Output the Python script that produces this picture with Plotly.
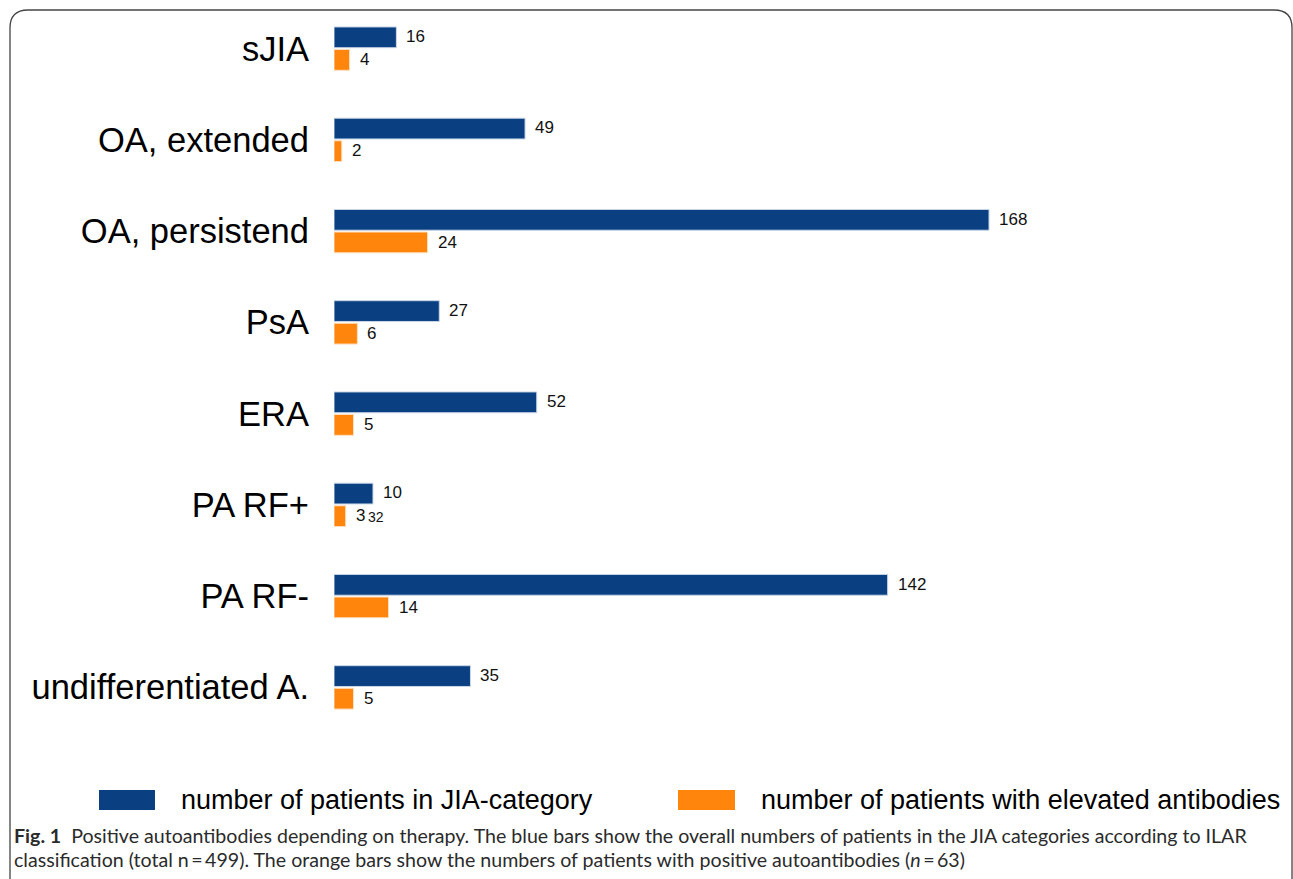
import plotly.graph_objects as go

categories = ["sJIA", "OA, extended", "OA, persistend", "PsA", "ERA",
              "PA RF+", "PA RF-", "undifferentiated A."]
patients_total = [16, 49, 168, 27, 52, 10, 142, 35]
patients_antibodies = [4, 2, 24, 6, 5, 3, 14, 5]
series_names = ["number of patients in JIA-category",
                "number of patients with elevated antibodies"]
caption_line1 = ("<b>Fig. 1</b>  Positive autoantibodies depending on therapy. The blue bars show the "
                 "overall numbers of patients in the JIA categories according to ILAR")
caption_line2 = ("classification (total n\u2009=\u2009499). The orange bars show the numbers of patients "
                 "with positive autoantibodies (<i>n</i>\u2009=\u200963)")

BLUE = "#0a4082"
ORANGE = "#ff850c"
W, H = 1293, 879
ML, MR, MT, MB = 334, 179, 3, 146
PW, PH = W - ML - MR, H - MT - MB


def px_x(p):
    return (p - ML) / PW


def px_y(p):
    return 1 - (p - MT) / PH


fig = go.Figure()
fig.add_trace(go.Bar(y=categories, x=patients_total, orientation="h", name=series_names[0],
                     marker=dict(color=BLUE, line=dict(color="#c9d6e6", width=1)),
                     showlegend=False, hoverinfo="x+y"))
fig.add_trace(go.Bar(y=categories, x=patients_antibodies, orientation="h", name=series_names[1],
                     marker=dict(color=ORANGE, line=dict(color="#ffe0c0", width=1)),
                     showlegend=False, hoverinfo="x+y"))

LABEL_FONT = dict(family="Liberation Sans, Arial", size=17, color="#111")
annotations = []
for cat, v in zip(categories, patients_total):
    annotations.append(dict(x=v, y=cat, text=str(v), showarrow=False, xanchor="left",
                            xshift=8, yshift=12, font=LABEL_FONT))
for cat, v in zip(categories, patients_antibodies):
    annotations.append(dict(x=v, y=cat, text=str(v), showarrow=False, xanchor="left",
                            xshift=8, yshift=-11, font=LABEL_FONT))
    if cat == "PA RF+":
        annotations.append(dict(x=v, y=cat, text="32", showarrow=False, xanchor="left",
                                xshift=20, yshift=-12,
                                font=dict(family="Liberation Sans, Arial", size=14, color="#111")))

# legend drawn as shapes + text
shapes = []
leg_y0, leg_y1 = 790, 810
for (x0, x1, tx, col, name) in [(99, 155, 179, BLUE, series_names[0]),
                                 (678, 735, 759, ORANGE, series_names[1])]:
    shapes.append(dict(type="rect", xref="paper", yref="paper",
                       x0=px_x(x0), x1=px_x(x1), y0=px_y(leg_y1), y1=px_y(leg_y0),
                       fillcolor=col, line=dict(width=0)))
    annotations.append(dict(xref="paper", yref="paper", x=px_x(tx), y=px_y(800), text=name,
                            showarrow=False, xanchor="left", yanchor="middle",
                            font=dict(family="Liberation Sans, Arial", size=27, color="#000")))

# caption
CAP_FONT = dict(family="Lato, Noto Sans", size=19.6, color="#2b2b2b")
annotations.append(dict(xref="paper", yref="paper", x=px_x(12), y=px_y(835), text=caption_line1,
                        showarrow=False, xanchor="left", yanchor="middle", font=CAP_FONT))
annotations.append(dict(xref="paper", yref="paper", x=px_x(12), y=px_y(859), text=caption_line2,
                        showarrow=False, xanchor="left", yanchor="middle", font=CAP_FONT))

# rounded border box (open at bottom)
r = 18
bx0, by0, bx1, by1 = 10, 10, 1292, 900
path = (f"M {bx0},{by1} L {bx0},{by0 + r} Q {bx0},{by0} {bx0 + r},{by0} "
        f"L {bx1 - r},{by0} Q {bx1},{by0} {bx1},{by0 + r} L {bx1},{by1}")


def conv(path_str):
    out = []
    for tok in path_str.split():
        if "," in tok:
            a, b = tok.split(",")
            out.append(f"{px_x(float(a)):.5f},{px_y(float(b)):.5f}")
        else:
            out.append(tok)
    return " ".join(out)


shapes.append(dict(type="path", xref="paper", yref="paper", path=conv(path),
                   line=dict(color="#444", width=1.3)))

fig.update_layout(
    width=W, height=H,
    margin=dict(l=ML, r=MR, t=MT, b=MB),
    paper_bgcolor="white", plot_bgcolor="white",
    barmode="group", bargap=0.505, bargroupgap=0.08,
    xaxis=dict(range=[0, PW / 3.899], visible=False, fixedrange=True),
    yaxis=dict(categoryorder="array", categoryarray=categories, autorange="reversed",
               showgrid=False, zeroline=False, showline=False, ticks="",
               ticklabelstandoff=24,
               tickfont=dict(family="Liberation Sans, Arial", size=34.5, color="#000")),
    annotations=annotations, shapes=shapes,
)
fig.write_html("out.html")
